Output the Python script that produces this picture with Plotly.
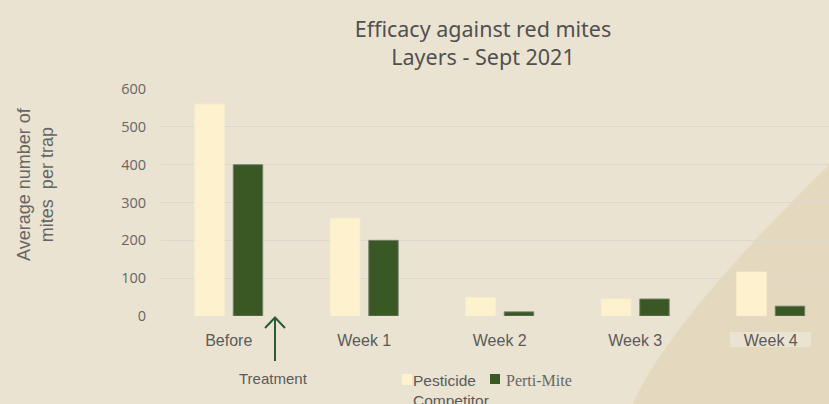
import plotly.graph_objects as go

categories = ["Before", "Week 1", "Week 2", "Week 3", "Week 4"]
pesticide = [560, 258, 49, 45, 116]
perti_mite = [400, 200, 11, 45, 26]
y_ticks = [0, 100, 200, 300, 400, 500, 600]
series_names = ["Pesticide<br>Competitor", "Perti-Mite"]

W, H = 829, 404
ML, MR, MT, MB = 161, 0, 89, 88
PW, PH = W - ML - MR, H - MT - MB

def px(x):
    return (x - ML) / PW

def py(y):
    return (H - MB - y) / PH

BG = "#EBE3D1"
DARK = "#E4D9BF"
CREAM = "#FEF2CE"
GREEN = "#3A5823"
TXT = "#5a5a5a"

fig = go.Figure()
fig.add_trace(go.Bar(
    x=categories, y=pesticide, name=series_names[0],
    marker=dict(color=CREAM, line=dict(color="rgba(248,238,205,1)", width=1)),
    showlegend=False,
))
fig.add_trace(go.Bar(
    x=categories, y=perti_mite, name=series_names[1],
    marker=dict(color=GREEN, line=dict(color="rgba(120,128,110,0.9)", width=1)),
    showlegend=False,
))

shapes = []
# decorative curved background area (lower right)
p0 = (px(630), py(410))
c1 = (px(665), py(325))
p3 = (px(829), py(165))
path = (f"M {p0[0]},{p0[1]} Q {c1[0]},{c1[1]} {p3[0]},{p3[1]} "
        f"L {px(840)},{py(160)} L {px(840)},{py(420)} Z")
shapes.append(dict(type="path", path=path, xref="paper", yref="paper",
                   fillcolor=DARK, line=dict(width=0), layer="below"))
# lighter box behind the Week 4 label
shapes.append(dict(type="rect", xref="paper", yref="paper",
                   x0=px(730), x1=px(811), y0=py(347), y1=py(332),
                   fillcolor=BG, line=dict(width=0), layer="below"))
# treatment arrow
AC = "#2B5A3B"
shapes.append(dict(type="line", xref="paper", yref="paper",
                   x0=px(275), x1=px(275), y0=py(361), y1=py(317.5),
                   line=dict(color=AC, width=2)))
shapes.append(dict(type="path", xref="paper", yref="paper",
                   path=f"M {px(265)},{py(328)} L {px(275)},{py(317.5)} L {px(285)},{py(328)}",
                   line=dict(color=AC, width=2)))
# legend swatches
shapes.append(dict(type="rect", xref="paper", yref="paper",
                   x0=px(402), x1=px(412), y0=py(385), y1=py(374),
                   fillcolor=CREAM, line=dict(width=0)))
shapes.append(dict(type="rect", xref="paper", yref="paper",
                   x0=px(490), x1=px(500), y0=py(384), y1=py(374),
                   fillcolor=GREEN, line=dict(width=0)))

annotations = [
    dict(text="Average number of<br>mites  per trap", textangle=-90,
         xref="paper", yref="paper", x=px(35), y=py(184),
         xanchor="center", yanchor="middle", showarrow=False,
         font=dict(family="Liberation Sans", size=18, color="#666666")),
    dict(text="Treatment", xref="paper", yref="paper", x=px(273), y=py(378),
         xanchor="center", yanchor="middle", showarrow=False,
         font=dict(family="Liberation Sans", size=15, color=TXT)),
    dict(text=series_names[0], xref="paper", yref="paper", x=px(411), y=py(370),
         xanchor="left", yanchor="top", showarrow=False, align="left",
         font=dict(family="Liberation Sans", size=15.5, color=TXT)),
    dict(text=series_names[1], xref="paper", yref="paper", x=px(504), y=py(370),
         xanchor="left", yanchor="top", showarrow=False, align="left",
         font=dict(family="Liberation Serif", size=16, color="#666666")),
]

fig.update_layout(
    width=W, height=H,
    margin=dict(l=ML, r=MR, t=MT, b=MB),
    paper_bgcolor=BG, plot_bgcolor="rgba(0,0,0,0)",
    title=dict(text="Efficacy against red mites<br>Layers - Sept 2021",
               x=483 / W, xanchor="center", xref="container",
               y=1 - 37 / H, yanchor="middle", yref="container",
               font=dict(family="Noto Sans", size=21.5, color="#505050")),
    barmode="group", bargap=0.432, bargroupgap=0.234,
    shapes=shapes, annotations=annotations,
    showlegend=False,
    xaxis=dict(range=[-0.5, -0.5 + PW / 135.5], showgrid=False, zeroline=False,
               showline=False, ticks="", ticklabelstandoff=13,
               tickfont=dict(family="Liberation Sans", size=16, color=TXT)),
    yaxis=dict(range=[0, 600], tickvals=y_ticks, showgrid=True,
               gridcolor="#DDD8CE", gridwidth=1, zeroline=False, showline=False,
               ticks="", ticklabelstandoff=14,
               tickfont=dict(family="Open Sans", size=14.5, color="#666666")),
)

fig.write_html("out.html", config={"displayModeBar": False},
               post_script="document.body.style.margin='0';document.body.style.background='" + BG + "';")
